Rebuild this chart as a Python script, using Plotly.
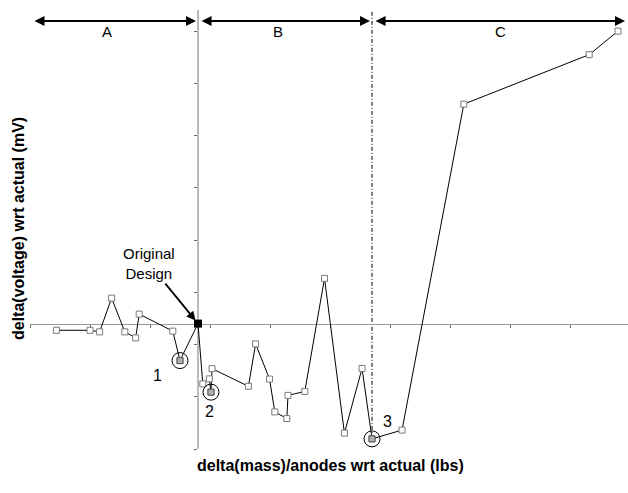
import plotly.graph_objects as go

# Change in mass per anode (lbs) and resulting change in voltage (mV), both relative to actual
mass_delta = [-1.18, -0.90, -0.82, -0.72, -0.61, -0.52, -0.49, -0.21, -0.15, 0.00,
              0.04, 0.094, 0.108, 0.117, 0.42, 0.48, 0.596, 0.64, 0.74, 0.75,
              0.89, 1.054, 1.22, 1.367, 1.45, 1.70, 2.215, 3.26, 3.50]
voltage_delta = [-0.64, -0.64, -0.79, 2.44, -0.79, -1.37, 0.91, -0.72, -3.54, 0.00,
                 -5.77, -5.29, -6.56, -4.31, -6.00, -1.94, -5.31, -8.45, -9.09, -6.87,
                 -6.49, 4.33, -10.48, -4.29, -11.03, -10.19, 21.0, 25.74, 27.99]

design_index = 9            # the original design point
flagged_index = [8, 12, 24]  # circled cases
flag_labels = ["1", "2", "3"]
flag_offsets = [(-23, -15), (-1, -19), (15, 17)]  # label offsets in px (x right, y up)

section_names = ["A", "B", "C"]
section_label_x = [-0.76, 0.67, 2.52]

X_RANGE = [-1.4, 3.583]
Y_RANGE = [-12.0, 28.0]
X_STEP = 0.5
Y_STEP = 5.0

FONT = "Liberation Sans, Arial, sans-serif"

fig = go.Figure()

# main series
fig.add_trace(go.Scatter(
    x=mass_delta, y=voltage_delta, mode="lines+markers",
    line=dict(color="black", width=1),
    marker=dict(symbol="square", size=6, color="white",
                line=dict(color="#7a7a7a", width=1)),
    cliponaxis=False, showlegend=False, hoverinfo="skip"))

# circled cases
fx = [mass_delta[i] for i in flagged_index]
fy = [voltage_delta[i] for i in flagged_index]
fig.add_trace(go.Scatter(
    x=fx, y=fy, mode="markers",
    marker=dict(symbol="square", size=6, color="#b0b0b0",
                line=dict(color="#555555", width=1)),
    cliponaxis=False, showlegend=False, hoverinfo="skip"))
fig.add_trace(go.Scatter(
    x=fx, y=fy, mode="markers",
    marker=dict(symbol="circle-open", size=16, color="black",
                line=dict(color="black", width=1)),
    cliponaxis=False, showlegend=False, hoverinfo="skip"))

# original design
fig.add_trace(go.Scatter(
    x=[mass_delta[design_index]], y=[voltage_delta[design_index]], mode="markers",
    marker=dict(symbol="square", size=8, color="black"),
    cliponaxis=False, showlegend=False, hoverinfo="skip"))

ann = []
for i, lab, (dx, dy) in zip(flagged_index, flag_labels, flag_offsets):
    ann.append(dict(x=mass_delta[i], y=voltage_delta[i], xref="x", yref="y",
                    text=lab, showarrow=False, xshift=dx, yshift=dy,
                    xanchor="center", yanchor="middle",
                    font=dict(family=FONT, size=16, color="black")))

ann.append(dict(x=mass_delta[design_index], y=voltage_delta[design_index],
                xref="x", yref="y", text="Original<br>Design",
                showarrow=True, ax=-49, ay=-60, arrowhead=2, arrowsize=1,
                arrowwidth=1.8, arrowcolor="black", standoff=4,
                font=dict(family=FONT, size=15, color="black")))

# section arrows across the top
ymin, ymax = Y_RANGE
sep_x = mass_delta[flagged_index[2]]
bounds = [X_RANGE[0] + 0.025, mass_delta[design_index], sep_x, X_RANGE[1] - 0.025]
gap = 0.017
arrow_y = (449 - 21) / 418
for k, name in enumerate(section_names):
    a = bounds[k] + (gap if k > 0 else 0)
    b = bounds[k + 1] - (gap if k < 2 else 0)
    ann.append(dict(x=b, y=arrow_y, xref="x", yref="paper",
                    ax=a, ay=0, axref="x", ayref="pixel",
                    text="", showarrow=True, arrowside="end+start",
                    arrowhead=2, startarrowhead=2, arrowsize=1, startarrowsize=1,
                    arrowwidth=2, arrowcolor="black"))
    ann.append(dict(x=section_label_x[k], y=(449 - 32) / 418, xref="x", yref="paper",
                    text=name, showarrow=False, xanchor="center", yanchor="middle",
                    font=dict(family=FONT, size=15, color="black")))

# axis titles
ann.append(dict(x=(18 - 30) / 598, y=(449 - 229) / 418, xref="paper", yref="paper",
                text="<b>delta(voltage) wrt actual (mV)</b>", textangle=-90,
                xanchor="center", yanchor="middle",
                showarrow=False, font=dict(family=FONT, size=16, color="black")))
ann.append(dict(x=(330 - 30) / 598, y=(449 - 465) / 418, xref="paper", yref="paper",
                text="<b>delta(mass)/anodes wrt actual (lbs)</b>",
                xanchor="center", yanchor="middle",
                showarrow=False, font=dict(family=FONT, size=16, color="black")))

# separators between sections
sep_paper_y = (voltage_delta[flagged_index[2]] - ymin) / (ymax - ymin)
top_paper = (449 - 10) / 418
shapes = [
    dict(type="line", xref="x", yref="paper", x0=0, x1=0, y0=1.0, y1=top_paper,
         line=dict(color="#bbbbbb", width=2), layer="below"),
    dict(type="line", xref="x", yref="paper", x0=sep_x, x1=sep_x,
         y0=sep_paper_y, y1=top_paper, layer="below",
         line=dict(color="black", width=1, dash="4px,2px,1px,2px")),
]

fig.update_layout(
    width=628, height=493, autosize=False,
    margin=dict(l=30, r=0, t=31, b=44),
    paper_bgcolor="white", plot_bgcolor="white",
    annotations=ann, shapes=shapes,
    xaxis=dict(range=X_RANGE, showgrid=False, zeroline=False, showticklabels=False,
               tick0=X_RANGE[0], dtick=X_STEP, ticks="outside", ticklen=3,
               tickcolor="#666666", showline=True, linecolor="#999999", linewidth=1,
               anchor="free", layer="below traces",
               position=(0 - ymin) / (ymax - ymin)),
    yaxis=dict(range=Y_RANGE, showgrid=False, zeroline=False, showticklabels=False,
               tick0=Y_RANGE[0], dtick=Y_STEP, ticks="outside", ticklen=3,
               tickcolor="#666666", showline=True, linecolor="#bbbbbb", linewidth=2,
               anchor="free", layer="below traces",
               position=(0 - X_RANGE[0]) / (X_RANGE[1] - X_RANGE[0])),
)

fig.write_html("out.html")
